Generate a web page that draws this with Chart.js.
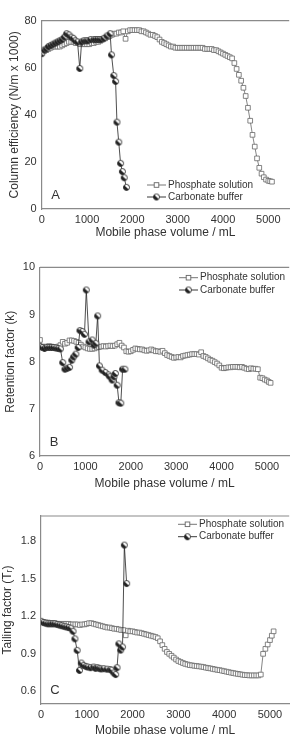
<!DOCTYPE html>
<html>
<head>
<meta charset="utf-8">
<title>Column stability</title>
<script src="https://cdn.jsdelivr.net/npm/chart.js@4.4.0/dist/chart.umd.min.js"></script>
<style>
    body { margin: 0; background: #fff; width: 294px; height: 734px; overflow: hidden; position: relative; }
    canvas { position: absolute; left: 0; }
</style>
</head>
<body>
<canvas id="chartA" width="294" height="245" style="top:0px"></canvas>
<canvas id="chartB" width="294" height="255" style="top:240px"></canvas>
<canvas id="chartC" width="294" height="250" style="top:490px"></canvas>

<script>
// mobile phase volume (mL) for the phosphate run
const volPhos = [0, 50, 100, 150, 200, 250, 300, 350, 400, 450, 500, 550, 600, 650, 700, 750, 800, 850, 900, 950,
    1000, 1050, 1100, 1150, 1200, 1250, 1300, 1350, 1400, 1450, 1500, 1550, 1600, 1650, 1700, 1750, 1800, 1850, 1900, 1950,
    2000, 2050, 2100, 2150, 2200, 2250, 2300, 2350, 2400, 2450, 2500, 2550, 2600, 2650, 2700, 2750, 2800, 2850, 2900, 2950,
    3000, 3050, 3100, 3150, 3200, 3250, 3300, 3350, 3400, 3450, 3500, 3550, 3600, 3650, 3700, 3750, 3800, 3850, 3900, 3950,
    4000, 4050, 4100, 4150, 4200, 4250, 4300, 4350, 4400, 4450, 4500, 4550, 4600, 4650, 4700, 4750, 4800, 4850, 4900, 4950,
    5000, 5040, 5080];

// A - column efficiency (N/m x 1000)
const effPhos = [66, 67, 67.5, 68, 68.5, 69, 69, 69, 69, 69.5, 70, 70.5, 71, 71, 71, 70.5, 70.5, 70, 70, 70,
    70, 70, 70.5, 70.5, 71, 71, 71.5, 72, 72.5, 73, 73.5, 74, 74.5, 74.5, 75, 75, 75.5, 72.3, 75.5, 76,
    76, 76, 76, 76, 75.5, 75.5, 75, 74.5, 74, 74, 73.5, 73, 72, 71, 70.5, 70, 69.5, 69, 69, 68.5,
    68.5, 68.5, 68.5, 68.5, 68.5, 68.5, 68.5, 68.5, 68.5, 68.5, 68.5, 68.5, 68, 68, 68, 68, 67.5, 67.5, 67, 66.5,
    66, 65.5, 65, 64.5, 64, 62, 59.5, 57, 54.5, 51.5, 48, 43, 37.5, 31.5, 26.5, 21.5, 17.5, 15, 13.5, 12.5,
    12, 11.8, 11.6];

// B - retention factor (k)
const retPhos = [8.46, 8.32, 8.3, 8.32, 8.33, 8.32, 8.3, 8.3, 8.32, 8.35, 8.42, 8.38, 8.4, 8.45, 8.45, 8.44, 8.42, 8.4, 8.36, 8.32,
    8.3, 8.28, 8.27, 8.27, 8.28, 8.3, 8.31, 8.32, 8.33, 8.32, 8.33, 8.34, 8.33, 8.34, 8.37, 8.4, 8.34, 8.3, 8.22, 8.21,
    8.22, 8.25, 8.28, 8.27, 8.26, 8.26, 8.24, 8.23, 8.24, 8.26, 8.24, 8.22, 8.22, 8.21, 8.23, 8.18, 8.14, 8.12, 8.1, 8.08,
    8.09, 8.1, 8.09, 8.12, 8.13, 8.14, 8.15, 8.16, 8.16, 8.16, 8.15, 8.2, 8.12, 8.1, 8.07, 8.04, 8.02, 7.99, 7.96, 7.92,
    7.87, 7.86, 7.87, 7.88, 7.88, 7.89, 7.89, 7.89, 7.88, 7.89, 7.87, 7.85, 7.84, 7.86, 7.85, 7.85, 7.84, 7.66, 7.65, 7.62,
    7.6, 7.57, 7.55];

// C - tailing factor
const tailPhos = [1.16, 1.155, 1.15, 1.15, 1.145, 1.145, 1.145, 1.14, 1.14, 1.14, 1.14, 1.14, 1.14, 1.135, 1.135, 1.135, 1.135, 1.13, 1.135, 1.135,
    1.14, 1.145, 1.145, 1.14, 1.135, 1.13, 1.125, 1.12, 1.115, 1.11, 1.11, 1.105, 1.1, 1.1, 1.095, 1.09, 1.09, 1.048, 1.085, 1.08,
    1.08, 1.075, 1.07, 1.07, 1.065, 1.06, 1.055, 1.05, 1.045, 1.04, 1.035, 1.025, 1.0, 0.97, 0.94, 0.915, 0.9, 0.885, 0.87, 0.855,
    0.843, 0.835, 0.827, 0.82, 0.815, 0.81, 0.808, 0.805, 0.803, 0.8, 0.798, 0.795, 0.79, 0.787, 0.784, 0.78, 0.776, 0.773, 0.77, 0.766,
    0.762, 0.758, 0.754, 0.75, 0.747, 0.743, 0.74, 0.737, 0.734, 0.731, 0.73, 0.728, 0.728, 0.728, 0.728, 0.728, 0.735, 0.9, 0.94, 0.975,
    1.01, 1.045, 1.08];

// mobile phase volume (mL) for the carbonate run
const volCarb = [0, 50, 100, 150, 200, 250, 300, 350, 400, 450, 500, 550, 600, 650, 700, 740, 790, 840, 880, 930,
    980, 1020, 1080, 1150, 1190, 1230, 1270, 1310, 1370, 1440, 1510, 1540, 1590, 1630, 1660, 1700, 1740, 1780, 1820, 1870];

const effCarb = [66, 67.5, 68, 69, 69.5, 70, 70.5, 71, 71.5, 72, 73, 74.5, 74, 73, 72.5, 71.5, 71, 59.7, 71, 71.5,
    71.5, 71.5, 72, 72, 72, 72, 72, 72, 72.5, 73.5, 74.5, 65.5, 56.7, 54.2, 36.9, 28.4, 19.4, 15.9, 13.3, 9.2];

const retCarb = [8.32, 8.3, 8.28, 8.3, 8.3, 8.3, 8.3, 8.29, 8.28, 8.27, 7.98, 7.84, 7.86, 7.88, 8.03, 8.1, 8.16, 8.3, 8.66, 8.64,
    8.58, 9.52, 8.42, 8.46, 8.35, 8.39, 8.97, 7.91, 7.82, 7.77, 7.72, 7.68, 7.61, 7.68, 7.75, 7.5, 7.13, 7.12, 7.84, 7.84];

const tailCarb = [1.16, 1.15, 1.145, 1.14, 1.14, 1.14, 1.14, 1.135, 1.13, 1.125, 1.12, 1.115, 1.11, 1.105, 1.08, 1.02, 0.928, 0.768, 0.827, 0.808,
    0.8, 0.795, 0.79, 0.795, 0.785, 0.79, 0.785, 0.78, 0.782, 0.778, 0.775, 0.77, 0.748, 0.735, 0.79, 0.98, 0.93, 0.955, 1.768, 1.461];

const volTicks = [0, 1000, 2000, 3000, 4000, 5000];
const effTicks = [0, 20, 40, 60, 80];
const retTicks = [6, 7, 8, 9, 10];
const tailTicks = [0.6, 0.9, 1.2, 1.5, 1.8];

const labelPhos = 'Phosphate solution';
const labelCarb = 'Carbonate buffer';

Chart.defaults.font.family = '"Liberation Sans", Arial, sans-serif';
Chart.defaults.color = '#333';

const AXIS = '#8a8a8a';
const PHOS = '#666';
const CARB = '#222';

// half filled circle, like the Origin symbol
function halfCircle() {
    const c = document.createElement('canvas');
    c.width = 9; c.height = 9;
    const g = c.getContext('2d');
    g.beginPath(); g.arc(4.5, 4.5, 3, 0, Math.PI * 2); g.fillStyle = '#fff'; g.fill();
    g.beginPath(); g.moveTo(4.5, 4.5); g.arc(4.5, 4.5, 3, Math.PI * 0.25, Math.PI * 1.25); g.closePath();
    g.fillStyle = CARB; g.fill();
    g.beginPath(); g.arc(4.5, 4.5, 3, 0, Math.PI * 2); g.strokeStyle = CARB; g.lineWidth = 0.9; g.stroke();
    return c;
}
const carbMarker = halfCircle();

function pairs(xs, ys) {
    return xs.map((x, i) => ({ x: x, y: ys[i] }));
}

// legend with line + symbol, drawn inside the plot
const inlineLegend = {
    id: 'inlineLegend',
    afterDatasetsDraw(chart, args, o) {
        const ctx = chart.ctx;
        ctx.save();
        ctx.font = '10px "Liberation Sans", Arial, sans-serif';
        ctx.textBaseline = 'middle';
        chart.data.datasets.forEach((ds, i) => {
            const y = o.y + i * o.gap;
            ctx.strokeStyle = ds.borderColor;
            ctx.lineWidth = 0.9;
            ctx.beginPath(); ctx.moveTo(o.x, y); ctx.lineTo(o.x + 19, y); ctx.stroke();
            const cx = o.x + 9.5;
            if (ds.pointStyle === 'rect') {
                ctx.fillStyle = '#fff';
                ctx.fillRect(cx - 2.3, y - 2.3, 4.6, 4.6);
                ctx.strokeStyle = PHOS;
                ctx.strokeRect(cx - 2.3, y - 2.3, 4.6, 4.6);
            } else {
                ctx.drawImage(carbMarker, cx - 4.5, y - 4.5);
            }
            ctx.fillStyle = '#333';
            ctx.fillText(ds.label, o.x + 21, y);
        });
        ctx.restore();
    }
};

// frame top line + panel letter
const panelDecor = {
    id: 'panelDecor',
    afterDraw(chart, args, o) {
        const a = chart.chartArea, ctx = chart.ctx;
        ctx.save();
        ctx.strokeStyle = AXIS;
        ctx.lineWidth = 1.2;
        ctx.beginPath(); ctx.moveTo(a.left, a.top); ctx.lineTo(a.right, a.top); ctx.stroke();
        ctx.fillStyle = '#333';
        ctx.font = '13px "Liberation Sans", Arial, sans-serif';
        ctx.textAlign = 'center';
        ctx.textBaseline = 'middle';
        ctx.fillText(o.letter, a.left + 14, a.bottom - 14);
        ctx.restore();
    }
};

function makePanel(id, p) {
    return new Chart(document.getElementById(id), {
        type: 'line',
        data: {
            datasets: [
                {
                    label: labelPhos,
                    data: pairs(volPhos, p.phos),
                    borderColor: PHOS,
                    borderWidth: 0.8,
                    pointStyle: 'rect',
                    pointRadius: 3.3,
                    pointBorderWidth: 0.8,
                    pointBorderColor: PHOS,
                    pointBackgroundColor: '#fff',
                    tension: 0,
                    order: 2
                },
                {
                    label: labelCarb,
                    data: pairs(volCarb, p.carb),
                    borderColor: CARB,
                    borderWidth: 0.8,
                    pointStyle: carbMarker,
                    tension: 0,
                    order: 1
                }
            ]
        },
        options: {
            responsive: false,
            animation: false,
            devicePixelRatio: 1,
            layout: { padding: { top: p.top, right: 0, bottom: 0, left: 0 } },
            plugins: {
                legend: { display: false },
                tooltip: { enabled: false },
                inlineLegend: p.legend,
                panelDecor: { letter: p.letter }
            },
            scales: {
                x: {
                    type: 'linear',
                    min: 0,
                    max: p.xMax,
                    afterBuildTicks: s => { s.ticks = volTicks.map(v => ({ value: v })); },
                    afterFit: s => { s.height = p.xAxisH; },
                    grid: { display: false, drawTicks: true, tickLength: 3, tickColor: AXIS },
                    border: { color: AXIS, width: 1.2 },
                    ticks: { font: { size: 11 }, padding: 1, maxRotation: 0, callback: v => String(v) },
                    title: { display: true, text: 'Mobile phase volume / mL', font: { size: 12 }, padding: { top: 0, bottom: p.xTitlePad } }
                },
                y: {
                    type: 'linear',
                    min: p.yMin,
                    max: p.yMax,
                    afterBuildTicks: s => { s.ticks = p.yTicks.map(v => ({ value: v })); },
                    afterFit: s => { s.width = p.left; },
                    grid: { display: false, drawTicks: true, tickLength: 3, tickColor: AXIS },
                    border: { color: AXIS, width: 1.2 },
                    ticks: { font: { size: 11 }, padding: 2, callback: p.fmt },
                    title: { display: true, text: p.yTitle, font: { size: 12 }, padding: { top: p.yTitlePad, bottom: 0 } }
                }
            }
        },
        plugins: [inlineLegend, panelDecor]
    });
}

// PANEL A
makePanel('chartA', {
    phos: effPhos, carb: effCarb, letter: 'A',
    top: 20.7, left: 41.7, xAxisH: 36, xTitlePad: 4.8, xMax: 5460,
    yMin: 0, yMax: 80, yTicks: effTicks, fmt: v => String(v),
    yTitle: 'Column efficiency (N/m x 1000)', yTitlePad: 7.8,
    legend: { x: 147, y: 185, gap: 12 }
});

// PANEL B
makePanel('chartB', {
    phos: retPhos, carb: retCarb, letter: 'B',
    top: 27.3, left: 40, xAxisH: 39, xTitlePad: 3.8, xMax: 5490,
    yMin: 6, yMax: 10, yTicks: retTicks, fmt: v => String(v),
    yTitle: 'Retention factor (k)', yTitlePad: 3.5,
    legend: { x: 179, y: 37.7, gap: 12.3 }
});

// PANEL C
makePanel('chartC', {
    phos: tailPhos, carb: tailCarb, letter: 'C',
    top: 26, left: 41, xAxisH: 36, xTitlePad: 1.8, xMax: 5420,
    yMin: 0.5, yMax: 2.0, yTicks: tailTicks, fmt: v => v.toFixed(1),
    yTitle: 'Tailing factor (Tᵣ)', yTitlePad: 0.3,
    legend: { x: 178, y: 34.3, gap: 12.4 }
});
</script>
</body>
</html>
